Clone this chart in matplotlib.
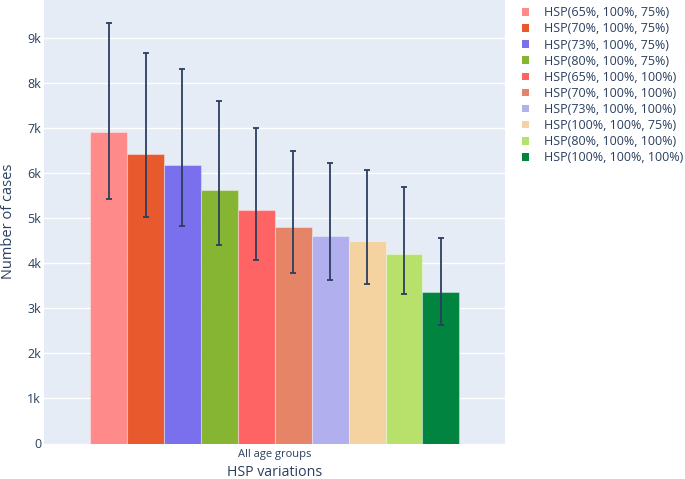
import matplotlib.pyplot as plt
from matplotlib.patches import Patch
from matplotlib.ticker import FuncFormatter

plt.rcParams['font.family'] = ['Open Sans', 'DejaVu Sans']

labels = [
    "HSP(65%, 100%, 75%)", "HSP(70%, 100%, 75%)", "HSP(73%, 100%, 75%)",
    "HSP(80%, 100%, 75%)", "HSP(65%, 100%, 100%)", "HSP(70%, 100%, 100%)",
    "HSP(73%, 100%, 100%)", "HSP(100%, 100%, 75%)", "HSP(80%, 100%, 100%)",
    "HSP(100%, 100%, 100%)",
]
cases = [6920, 6420, 6170, 5620, 5190, 4810, 4610, 4490, 4210, 3360]
upper = [9340, 8670, 8310, 7590, 7000, 6500, 6230, 6070, 5690, 4560]
lower = [5420, 5030, 4830, 4400, 4070, 3780, 3630, 3530, 3310, 2640]
colors = ["#FF8A8A", "#E8592E", "#7A70EE", "#86B534", "#FF6464",
          "#E58466", "#B2AFEE", "#F4D3A1", "#B8E16C", "#00843F"]
group = "All age groups"

text_col = "#2a3f5f"
fig = plt.figure(figsize=(6.85, 4.79), dpi=100)
ax = fig.add_axes([44 / 685, 1 - 443.5 / 479, 461.5 / 685, 443.5 / 479])
ax.set_facecolor("#E5ECF6")

n = len(cases)
w = 0.8 / n
for i in range(n):
    x = -0.4 + w * (i + 0.5)
    ax.bar(x, cases[i], width=w, color=colors[i],
           edgecolor=(1, 1, 1, 0.35), linewidth=0.8, zorder=2)
    ax.errorbar(x, cases[i],
                yerr=[[cases[i] - lower[i]], [upper[i] - cases[i]]],
                fmt="none", ecolor=text_col, elinewidth=1.3,
                capsize=2.2, capthick=1.3, zorder=3)

ax.set_xlim(-0.5, 0.5)
ax.set_ylim(0, 9840)
ax.set_yticks(range(0, 10000, 1000))
ax.yaxis.set_major_formatter(FuncFormatter(lambda v, p: "0" if v == 0 else f"{int(v / 1000)}k"))
ax.set_xticks([0])
ax.set_xticklabels([group])
ax.grid(axis="y", color="white", linewidth=1, zorder=0)
ax.set_axisbelow(True)
for s in ax.spines.values():
    s.set_visible(False)
ax.tick_params(axis="y", length=0, pad=2, labelsize=9, labelcolor=text_col)
ax.tick_params(axis="x", length=0, pad=4, labelsize=8, labelcolor=text_col)
ax.set_ylabel("Number of cases", fontsize=10.5, color=text_col, labelpad=8)
ax.set_xlabel("HSP variations", fontsize=10.2, color=text_col, labelpad=3.5)

handles = [Patch(facecolor=c, edgecolor="none") for c in colors]
fig.legend(handles, labels, loc="upper left", bbox_to_anchor=(511 / 685, 1 + 5 / 479),
           frameon=False, fontsize=9.0, handlelength=0.55, handleheight=0.55,
           handletextpad=1.15, labelspacing=0.25, labelcolor=text_col)

fig.savefig("out.png", dpi=100)
